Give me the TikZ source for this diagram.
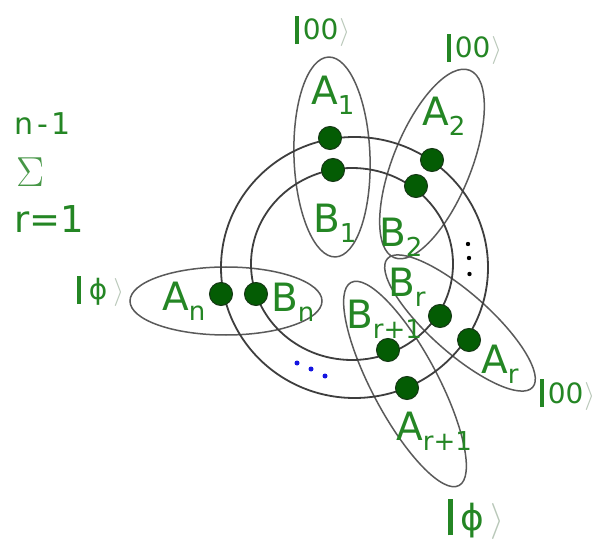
\RequirePackage{fix-cm}
\documentclass[tikz,border=0pt]{standalone}
\usepackage{fontspec}
\setmainfont{DejaVu Sans}
\definecolor{labgreen}{RGB}{36,134,36}
\definecolor{siggreen}{RGB}{70,150,70}
\definecolor{dotgreen}{RGB}{4,92,4}
\definecolor{dotedge}{RGB}{20,55,20}
\definecolor{loopgray}{RGB}{62,62,62}
\definecolor{ellgray}{RGB}{90,90,90}
\definecolor{ketgray}{RGB}{185,200,185}
\definecolor{dotsblue}{RGB}{20,20,225}
\newcommand\sub[1]{\raisebox{-10pt}{\fontsize{26}{27}\selectfont #1}}
\newcommand\kt[3]{\textcolor{labgreen}{\rule[-0.15em]{0.13em}{1.0em}}\hspace{#2}#1\hspace{#3}\textcolor{ketgray}{$\rangle$}}
\begin{document}
\begin{tikzpicture}[x=1pt,y=-1pt,
  loopline/.style={draw=loopgray,line width=1.8pt},
  ell/.style={draw=ellgray,line width=1.5pt},
  qubit/.style={circle,fill=dotgreen,draw=dotedge,line width=1pt,minimum size=23pt,inner sep=0pt},
  lab/.style={anchor=base west,inner sep=0pt,text=labgreen,font=\fontsize{39}{40}\selectfont},
  ketlab/.style={anchor=base west,inner sep=0pt,text=labgreen,font=\fontsize{28}{30}\selectfont},
  bigket/.style={anchor=base west,inner sep=0pt,text=labgreen,font=\fontsize{36}{38}\selectfont},
  vdot/.style={circle,fill=black,inner sep=0pt,minimum size=4.4pt},
  bdot/.style={circle,fill=dotsblue,inner sep=0pt,minimum size=5pt}]
\useasboundingbox (0,0) rectangle (605,545);
\fill[white] (0,0) rectangle (605,545);

% pair ellipses
\draw[ell,rotate around={2:(332,157)}] (332,157) ellipse [x radius=38pt,y radius=100pt];
\draw[ell,rotate around={68:(432,164)}] (432,164) ellipse [x radius=101pt,y radius=39pt];
\draw[ell] (226,301) ellipse [x radius=96pt,y radius=34pt];
\draw[ell,rotate around={-41.5:(460,323)}] (460,323) ellipse [x radius=97pt,y radius=30pt];
\draw[ell,rotate around={-62:(405,384)}] (405,384) ellipse [x radius=115pt,y radius=33pt];

% loops
\draw[loopline] (354.5,267.5) ellipse [x radius=133.5pt,y radius=130.5pt];
\draw[loopline] (352,264) ellipse [x radius=101pt,y radius=96pt];

% qubits
\node[qubit] (A1) at (330,138) {};
\node[qubit] (B1) at (333,170) {};
\node[qubit] (A2) at (432,160) {};
\node[qubit] (B2) at (416,186) {};
\node[qubit] (Br) at (440,316) {};
\node[qubit] (Ar) at (469,340) {};
\node[qubit] (Br1) at (388,350) {};
\node[qubit] (Ar1) at (407,388) {};
\node[qubit] (An) at (221,294) {};
\node[qubit] (Bn) at (256,294) {};

% ellipsis dots
\node[vdot] (v1) at (468,244) {};
\node[vdot] (v2) at (469,258) {};
\node[vdot] (v3) at (469.5,274) {};
\node[bdot] (b1) at (297,363) {};
\node[bdot] (b2) at (311,369) {};
\node[bdot] (b3) at (325,376) {};

% labels
\node[lab] (lA1) at (311,105) {A\sub{1}};
\node[lab] (lB1) at (313,233) {B\sub{1}};
\node[lab] (lA2) at (422,126) {A\sub{2}};
\node[lab] (lB2) at (379,247) {B\sub{2}};
\node[lab] (lBr) at (388,297) {B\sub{r}};
\node[lab] (lBr1) at (346,328) {B\sub{r+1}};
\node[lab] (lAr) at (481,373) {A\sub{r}};
\node[lab] (lAr1) at (396,440) {A\sub{r+1}};
\node[lab] (lAn) at (162,310) {A\sub{n}};
\node[lab] (lBn) at (271,312) {B\sub{n}};

% kets
\node[ketlab] (k1) at (295,40) {\kt{00}{4pt}{1pt}};
\node[ketlab] (k2) at (447,58) {\kt{00}{4pt}{1pt}};
\node[ketlab] (k3) at (540,403) {\kt{00}{4pt}{1pt}};
\node[ketlab] (k4) at (77,300) {\kt{ϕ}{8pt}{6pt}};
\node[bigket] (k5) at (448,530) {\kt{ϕ}{8pt}{6pt}};

% sum
\node[anchor=base west,inner sep=0pt,text=labgreen,font=\fontsize{30}{32}\selectfont] (top) at (14,135) {n\hspace{4pt}-\hspace{3pt}1};
\node[anchor=base west,inner sep=0pt,text=siggreen,font=\fontsize{42}{44}\selectfont] (sig) at (16,187) {$\Sigma$};
\node[anchor=base west,inner sep=0pt,text=labgreen,font=\fontsize{37}{39}\selectfont] (bot) at (14,233) {r=1};
\end{tikzpicture}
\end{document}
